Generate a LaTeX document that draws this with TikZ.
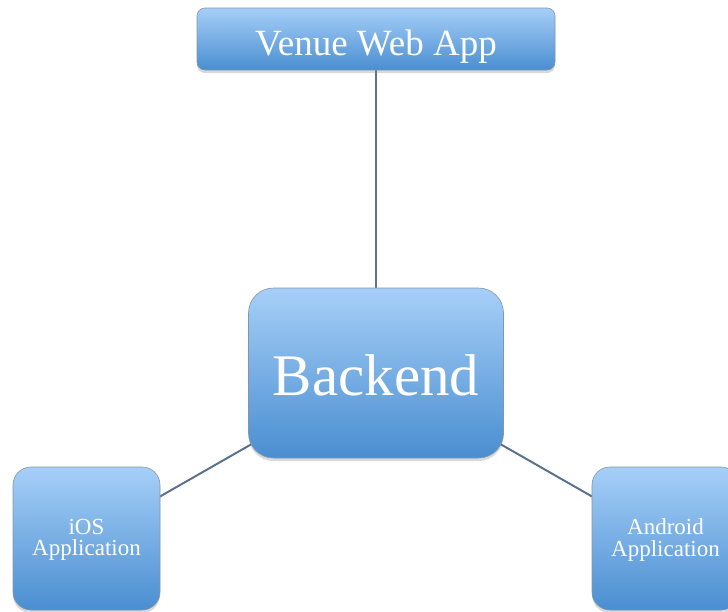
\documentclass[tikz,border=0pt]{standalone}
\usepackage{fontspec}
\setmainfont{Liberation Serif}
\usetikzlibrary{shadows,backgrounds}
\definecolor{boxtop}{HTML}{A6CFF8}
\definecolor{boxbot}{HTML}{4A8ED1}
\definecolor{boxedge}{HTML}{8296AB}
\definecolor{linkcol}{HTML}{5B7390}
\tikzset{
  appbox/.style={draw=boxedge, line width=0.6pt, top color=boxtop, bottom color=boxbot,
    text=white, inner sep=0pt, align=center,
    drop shadow={opacity=0.3, shadow xshift=0pt, shadow yshift=-3pt}},
  smallbox/.style={appbox, rounded corners=18pt, minimum width=147pt, minimum height=143pt,
    font=\fontsize{23pt}{21.5pt}\selectfont, text depth=2pt},
  link/.style={draw=linkcol, line width=2pt}
}
\begin{document}
\begin{tikzpicture}[x=1pt,y=-1pt]
\useasboundingbox (0,0) rectangle (728,611);
\clip (0,0) rectangle (728,611);
\node[appbox, rounded corners=8pt, minimum width=358pt, minimum height=62pt,
  font=\fontsize{37pt}{40pt}\selectfont, text height=32pt, text depth=0pt] (venue) at (376,39) {Venue Web App};
\node[appbox, rounded corners=25pt, minimum width=255pt, minimum height=170pt,
  font=\fontsize{59pt}{62pt}\selectfont, text height=44pt, text depth=0pt] (backend) at (376,373) {Backend};
\node[smallbox] (ios) at (86.5,538.5) {iOS\\Application};
\node[smallbox] (android) at (665.5,538.5) {Android\\Application};
\begin{scope}[on background layer]
\draw[link] (venue.center) -- (backend.center);
\draw[link] (backend.center) -- (ios.center);
\draw[link] (backend.center) -- (android.center);
\end{scope}
\end{tikzpicture}
\end{document}
